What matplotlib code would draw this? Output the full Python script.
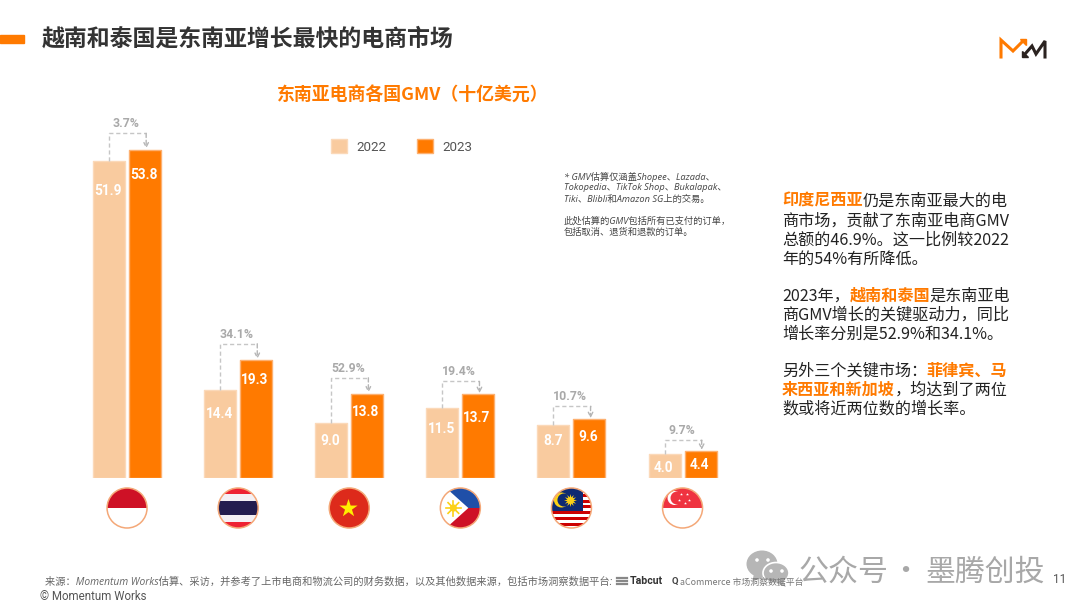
import numpy as np
import matplotlib
matplotlib.use('Agg')
import matplotlib.pyplot as plt
from matplotlib.patches import Circle, Rectangle, Polygon, Ellipse

# Data
countries = ['Indonesia', 'Thailand', 'Vietnam', 'Philippines', 'Malaysia', 'Singapore']
gmv_2022 = [51.9, 14.4, 9.0, 11.5, 8.7, 4.0]
gmv_2023 = [53.8, 19.3, 13.8, 13.7, 9.6, 4.4]
growth = ['3.7%', '34.1%', '52.9%', '19.4%', '10.7%', '9.7%']
years = ['2022', '2023']

title = '越南和泰国是东南亚增长最快的电商市场'
chart_title = '东南亚电商各国GMV（十亿美元）'
note_lines = ['* GMV估算仅涵盖Shopee、Lazada、',
              'Tokopedia、TikTok Shop、Bukalapak、',
              'Tiki、Blibli和Amazon SG上的交易。',
              '',
              '此处估算的GMV包括所有已支付的订单，',
              '包括取消、退货和退款的订单。']
# (text, highlighted)
side_text = [
    [('印度尼西亚', True), ('仍是东南亚最大的电', False)],
    [('商市场，贡献了东南亚电商GMV', False)],
    [('总额的46.9%。这一比例较2022', False)],
    [('年的54%有所降低。', False)],
    [],
    [('2023年，', False), ('越南和泰国', True), ('是东南亚电', False)],
    [('商GMV增长的关键驱动力，同比', False)],
    [('增长率分别是52.9%和34.1%。', False)],
    [],
    [('另外三个关键市场：', False), ('菲律宾、马', True)],
    [('来西亚和新加坡', True), ('，均达到了两位', False)],
    [('数或将近两位数的增长率。', False)],
]
source = '来源：Momentum Works估算、采访，并参考了上市电商和物流公司的财务数据，以及其他数据来源，包括市场洞察数据平台:'

ORANGE = '#ff7a00'
PEACH = '#f9cb9f'
CJK = ['Noto Sans CJK SC', 'DejaVu Sans']
ITAL = ['Open Sans', 'Noto Sans CJK SC']
W, H = 1080, 613

fig = plt.figure(figsize=(W / 100, H / 100), dpi=100, facecolor='white')

# Bars
ax = fig.add_axes([71.5 / W, (H - 478) / H, 666.6 / W, 366 / H])
ax.set_xlim(-0.5, 5.5)
ax.set_ylim(0, 60)
ax.axis('off')
x = np.arange(len(countries))
w = 0.288
off = 0.162
b1 = ax.bar(x - off, gmv_2022, w, color=PEACH, edgecolor='#fbd9b9', linewidth=1,
            joinstyle='round', label=years[0])
b2 = ax.bar(x + off, gmv_2023, w, color=ORANGE, edgecolor='#fdb070', linewidth=1,
            joinstyle='round', label=years[1])
leg = ax.legend(handles=[b1, b2], ncol=2, frameon=False, loc='upper left',
                bbox_to_anchor=(0.39, 0.925), prop={'family': 'Roboto', 'size': 9.6},
                labelcolor='#555555', handlelength=1.2, handleheight=1.2,
                handletextpad=0.68, columnspacing=2.3, borderpad=0, borderaxespad=0)

# Distance of value labels under the bar top, in pixels
off_2022 = [28, 22, 17, 20, 15, 13]
off_2023 = [24, 18, 17, 22, 16, 12]
# Height of connector above the 2023 bar, in pixels
conn_h = [16.5, 16.5, 16, 13, 13, 11]
conn_col = '#c6c6c6'
for i in x:
    ax.annotate(f'{gmv_2022[i]:.1f}', (i - off, gmv_2022[i]), xytext=(-0.5, -off_2022[i] * 0.72 - 1),
                textcoords='offset points', ha='center', va='center', color='white',
                fontsize=9.8, fontweight='bold', family='Roboto')
    ax.annotate(f'{gmv_2023[i]:.1f}', (i + off, gmv_2023[i]), xytext=(-1, -off_2023[i] * 0.72 - 1),
                textcoords='offset points', ha='center', va='center', color='white',
                fontsize=9.8, fontweight='bold', family='Roboto')
    level = gmv_2023[i] + conn_h[i] / 6.1
    ax.plot([i - off, i - off, i + off + 0.01], [gmv_2022[i], level, level], color=conn_col,
            lw=1, ls=(0, (3, 2)))
    ax.annotate('', xy=(i + off + 0.01, gmv_2023[i] + 0.2), xytext=(i + off + 0.01, level),
                arrowprops=dict(arrowstyle='->', color='#b5b5b5', lw=1, ls=(0, (3, 2)),
                                shrinkA=0, shrinkB=0, mutation_scale=8))
    ax.annotate(growth[i], (i - 0.01, level), xytext=(0, 7), textcoords='offset points',
                ha='center', va='center', color='#a9a9a9', fontsize=8.8, fontweight='bold',
                family='Roboto')

# Overlay in pixel coordinates
ov = fig.add_axes([0, 0, 1, 1], zorder=5)
ov.set_xlim(0, W)
ov.set_ylim(H, 0)
ov.axis('off')
ov.patch.set_alpha(0)

ov.add_patch(Rectangle((0, 35), 24, 8, color=ORANGE))
ov.text(42, 39.5, title, fontsize=16.5, fontweight='bold', family=CJK, color='#333333', va='center')
ov.text(412.5, 96, chart_title, fontsize=12.9, fontweight='bold', family=CJK, color=ORANGE,
        ha='center', va='center')

# Logo
ov.plot([1001, 1001, 1013, 1023], [57, 40, 51, 41], color=ORANGE, lw=2.2, solid_joinstyle='miter')
ov.add_patch(Polygon([(1020, 39), (1026, 39), (1026, 45)], color=ORANGE))
ov.plot([1025, 1032, 1036, 1045, 1045], [54, 46, 54, 41, 57], color='#2b2320', lw=2.2,
        solid_joinstyle='miter')
ov.add_patch(Polygon([(1022, 51), (1022, 57), (1028, 57)], color='#2b2320'))

# Footnote beside the chart
note_y = [177, 188, 199, 210, 221, 232]
for y, line in zip(note_y, note_lines):
    ov.text(564, y, line, fontsize=6.7, family=ITAL, style='italic', color='#444444', va='center')

# Side text, one coloured run after another
fig.canvas.draw()
renderer = fig.canvas.get_renderer()
side_y = [201, 221, 240, 259, 277, 296, 315, 334, 352, 371, 390, 409]
for y, runs in zip(side_y, side_text):
    px = 782
    for txt, hot in runs:
        t = ov.text(px, y, txt, fontsize=11.6, family=CJK, va='center',
                    color=ORANGE if hot else '#222222', fontweight='bold' if hot else 'normal')
        px = t.get_window_extent(renderer).x1 - 0.3


# Flags
def flag_base(cx, cy, r=20):
    return Circle((cx, cy), r, transform=ov.transData)


def finish(cx, cy, arts, r=20):
    clip = flag_base(cx, cy, r)
    for a in arts:
        a.set_clip_path(clip)
    ov.add_patch(Circle((cx, cy), r, fill=False, ec='#f4a878', lw=1.1, zorder=6))


def rect(cx, cy, y0, y1, color, x0=-20, x1=20):
    return ov.add_patch(Rectangle((cx + x0, cy + y0), x1 - x0, y1 - y0, color=color, lw=0))


def flag_indonesia(cx, cy):
    finish(cx, cy, [rect(cx, cy, -20, 0, '#ce1126'), rect(cx, cy, 0, 20, 'white')])


def flag_thailand(cx, cy):
    finish(cx, cy, [rect(cx, cy, -20, -14, '#ee2233'), rect(cx, cy, -14, -7, '#f4f0f4'),
                    rect(cx, cy, -7, 7, '#241d4f'), rect(cx, cy, 7, 14, '#f4f0f4'),
                    rect(cx, cy, 14, 20, '#ee2233')])


def flag_vietnam(cx, cy):
    finish(cx, cy, [rect(cx, cy, -20, 20, '#dd2a1b')])
    ov.scatter([cx - 1], [cy], s=190, marker='*', color='#ffee00', lw=0, zorder=5)


def flag_philippines(cx, cy):
    a = [rect(cx, cy, -20, 0, '#1f4fa8'), rect(cx, cy, 0, 20, '#ce1126'),
         ov.add_patch(Polygon([(cx - 22, cy - 27), (cx + 8, cy), (cx - 22, cy + 27)],
                              color='white', lw=0))]
    finish(cx, cy, a)
    for ang in np.arange(0, 360, 45):
        ov.plot([cx - 7 + 3 * np.cos(np.radians(ang)), cx - 7 + 7.5 * np.cos(np.radians(ang))],
                [cy + 3 * np.sin(np.radians(ang)), cy + 7.5 * np.sin(np.radians(ang))],
                color='#fcd116', lw=1.2, zorder=5)
    ov.add_patch(Circle((cx - 7, cy), 3.6, color='#fcd116', lw=0, zorder=5))


def flag_malaysia(cx, cy):
    a = [rect(cx, cy, -20, 20, 'white')]
    for k in range(7):
        a.append(rect(cx, cy, -20 + k * 5.8, -20 + k * 5.8 + 2.9, '#cc0001'))
    a.append(rect(cx, cy, -20, 3, '#0f2a72', x1=12))
    finish(cx, cy, a)
    c1 = ov.add_patch(Circle((cx - 10, cy - 8), 7.5, color='#fcd116', lw=0, zorder=5))
    c1.set_clip_path(flag_base(cx, cy))
    c2 = ov.add_patch(Circle((cx - 7.5, cy - 8), 6.5, color='#0f2a72', lw=0, zorder=5))
    c2.set_clip_path(flag_base(cx, cy))
    ov.scatter([cx - 1], [cy - 8], s=85, marker=(12, 1, 0), color='#fcd116', lw=0, zorder=5)


def flag_singapore(cx, cy):
    finish(cx, cy, [rect(cx, cy, -20, 0, '#ef3340'), rect(cx, cy, 0, 20, 'white')])
    ov.add_patch(Circle((cx - 8, cy - 10), 7, color='white', lw=0, zorder=5))
    ov.add_patch(Circle((cx - 5.5, cy - 10), 6.5, color='#ef3340', lw=0, zorder=5))
    ov.scatter(cx + np.array([-3, 3, 5, 1, -5]) + 1, cy + np.array([-14, -14, -8, -5, -8]),
               s=5, marker='*', color='white', lw=0, zorder=5)


flag_funcs = [flag_indonesia, flag_thailand, flag_vietnam, flag_philippines, flag_malaysia, flag_singapore]
for i, func in enumerate(flag_funcs):
    func(ax.transData.transform((i, 0))[0], 508)

# Footer
ov.text(45, 582, source, fontsize=7.36, family=ITAL, style='italic', color='#666666', va='center')
for yy in (578, 581, 584):
    ov.plot([617, 627], [yy, yy], color='#888888', lw=1.6)
ov.text(630, 581.5, 'Tabcut', fontsize=7.6, fontweight='bold', family='Roboto', color='#333333', va='center')
ov.text(672, 581.5, 'Q', fontsize=6.8, fontweight='bold', family='Roboto', color='#444444', va='center')
ov.text(680, 582, 'aCommerce 市场洞察数据平台', fontsize=6.4, family=CJK, color='#777777', va='center')
ov.text(40, 597, '© Momentum Works', fontsize=8.3, family='Roboto', color='#555555', va='center')
ov.text(1053, 579.5, '11', fontsize=8.5, family='Roboto', color='#555555', va='center')

# Watermark
ov.add_patch(Ellipse((762, 564), 31, 27, color='#b6b6b6', lw=0))
ov.add_patch(Polygon([(754, 574), (752, 582), (763, 577)], color='#b6b6b6', lw=0))
ov.add_patch(Ellipse((776, 573), 26, 21, fc='#b6b6b6', ec='white', lw=1.2))
ov.add_patch(Polygon([(782, 581), (786, 587), (776, 583)], color='#b6b6b6', lw=0))
for ex, ey in [(757, 560), (768, 560), (771, 571), (782, 571)]:
    ov.add_patch(Circle((ex, ey), 1.8, color='white', lw=0))
ov.text(798, 572, '公众号', fontsize=21.6, family=CJK, fontweight='light', color='#a8a8a8', va='center')
ov.text(905, 572, '·', fontsize=21.6, family=CJK, fontweight='light', color='#a8a8a8', va='center', ha='center')
ov.text(925, 572, '墨腾创投', fontsize=21.5, family=CJK, fontweight='light', color='#a8a8a8', va='center')

fig.savefig('out.png', dpi=100, facecolor='white')
